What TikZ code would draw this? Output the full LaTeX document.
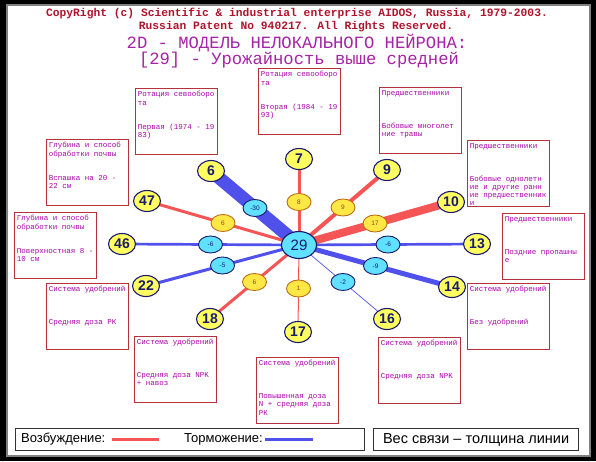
\documentclass[tikz,border=0pt]{standalone}
\usepackage{fontspec}
\setmainfont{Liberation Sans}
\newfontfamily\monofont{Liberation Mono}
\usetikzlibrary{shapes.geometric}

\definecolor{excred}{RGB}{245,85,85}
\definecolor{inhblue}{RGB}{80,80,235}
\definecolor{nodeyellow}{RGB}{255,255,95}
\definecolor{wyellow}{RGB}{255,232,70}
\definecolor{wbrown}{RGB}{190,110,20}
\definecolor{navy}{RGB}{25,25,110}
\definecolor{aqua}{RGB}{95,225,255}
\definecolor{boxred}{RGB}{180,50,60}
\definecolor{boxtext}{RGB}{170,0,170}
\definecolor{copyred}{RGB}{175,20,45}
\definecolor{titlepurple}{RGB}{165,35,165}

\pgfdeclarelayer{background}
\pgfsetlayers{background,main}

% text of a factor box: title lines at the top, value from line 5 on
\newcommand{\infolines}[1]{\parbox[c][60pt][t]{77pt}{\raggedright\fontsize{7.5}{8.2}\monofont #1}}

\begin{document}
\begin{tikzpicture}[x=1pt, y=-1pt,
    outer/.style={ellipse, draw=navy, line width=1.1pt, fill=nodeyellow,
      minimum width=27pt, minimum height=21pt, inner sep=0pt, text=navy,
      font=\fontsize{14}{14}\selectfont\bfseries},
    hub/.style={ellipse, draw=navy, line width=1.1pt, fill=aqua,
      minimum width=35pt, minimum height=27pt, inner sep=0pt, text=navy,
      font=\fontsize{15}{15}\selectfont},
    poswt/.style={ellipse, draw=wbrown, line width=0.9pt, fill=wyellow,
      minimum width=24pt, minimum height=17pt, inner sep=0pt,
      text=wbrown!70!black, font=\fontsize{6.5}{6.5}\selectfont},
    negwt/.style={poswt, draw=navy, fill=aqua, text=navy},
    exc/.style={draw=excred},
    inh/.style={draw=inhblue},
    infobox/.style={draw=boxred, line width=0.9pt, fill=white, anchor=north west,
      inner xsep=2.5pt, inner ysep=3pt, text=boxtext},
    legendbox/.style={draw=black!80, line width=1.2pt, anchor=north west,
      minimum height=22pt, inner sep=0pt, font=\fontsize{14.5}{14.5}\selectfont},
    legendtext/.style={anchor=west, inner sep=0pt, font=\fontsize{13}{13}\selectfont},
    headline/.style={inner sep=0pt, text=copyred, font=\fontsize{11.3}{11.3}\selectfont\monofont\bfseries},
    modelline/.style={inner sep=0pt, text=titlepurple, font=\fontsize{17.2}{17.2}\selectfont\monofont}
  ]
  \useasboundingbox (0,0) rectangle (596,461);

  % Title
  \node[headline] (copy) at (297,14)
    {CopyRight (c) Scientific \& industrial enterprise AIDOS, Russia, 1979-2003.};
  \node[headline] (patent) at (296,27)
    {Russian Patent No 940217. All Rights Reserved.};
  \node[modelline] (model) at (297,43)
    {2D - МОДЕЛЬ НЕЛОКАЛЬНОГО НЕЙРОНА:};
  \node[modelline] (class) at (299,60)
    {[29] - Урожайность выше средней};

  % Neuron and its factors
  \node[hub] (hub) at (299,245) {29};
  \node[outer] (n7)  at (299,159) {7};
  \node[outer] (n6)  at (211,171) {6};
  \node[outer] (n9)  at (387,170) {9};
  \node[outer] (n10) at (451,202) {10};
  \node[outer] (n47) at (147,201) {47};
  \node[outer] (n46) at (122,244) {46};
  \node[outer] (n13) at (477,244) {13};
  \node[outer] (n22) at (146,286) {22};
  \node[outer] (n14) at (452,287) {14};
  \node[outer] (n18) at (210,319) {18};
  \node[outer] (n17) at (298,332) {17};
  \node[outer] (n16) at (387,319) {16};

  \begin{pgfonlayer}{background}
    % Frame
    \fill[black] (0,0) rectangle (596,461);
    \filldraw[fill=white, draw=gray, line width=1.5pt] (7,5) rectangle (590,456);

    % Links, width = weight
    \draw[inh, line width=13pt] (hub.center) -- node[negwt] (w6) {-30} (n6.center);
    \draw[exc, line width=3pt] (hub.center) -- node[poswt] (w7) {8} (n7.center);
    \draw[exc, line width=4pt] (hub.center) -- node[poswt] (w9) {9} (n9.center);
    \draw[exc, line width=8pt] (hub.center) -- node[poswt] (w10) {17} (n10.center);
    \draw[exc, line width=3pt] (hub.center) -- node[poswt] (w47) {6} (n47.center);
    \draw[inh, line width=2.7pt] (hub.center) -- node[negwt] (w46) {-6} (n46.center);
    \draw[inh, line width=2.7pt] (hub.center) -- node[negwt] (w13) {-6} (n13.center);
    \draw[inh, line width=3pt] (hub.center) -- node[negwt] (w22) {-5} (n22.center);
    \draw[inh, line width=5pt] (hub.center) -- node[negwt] (w14) {-9} (n14.center);
    \draw[exc, line width=3pt] (hub.center) -- node[poswt] (w18) {6} (n18.center);
    \draw[exc, line width=1pt] (hub.center) -- node[poswt] (w17) {1} (n17.center);
    \draw[inh, line width=0.7pt] (hub.center) -- node[negwt] (w16) {-2} (n16.center);
  \end{pgfonlayer}

  % Factor boxes
  \node[infobox] (rot2) at (258,68) {\infolines{Ротация севооборо\\та\\[16.4pt]Вторая (1984 - 19\\93)}};
  \node[infobox] (rot1) at (135,88) {\infolines{Ротация севооборо\\та\\[16.4pt]Первая (1974 - 19\\83)}};
  \node[infobox] (pred1) at (379,87) {\infolines{Предшественники\\[24.6pt]Бобовые многолет\\ние травы}};
  \node[infobox] (soil1) at (46,139) {\infolines{Глубина и способ\\обработки почвы\\[16.4pt]Вспашка на 20 -\\22 см}};
  \node[infobox] (soil2) at (14,212) {\infolines{Глубина и способ\\обработки почвы\\[16.4pt]Поверхностная 8 -\\10 см}};
  \node[infobox] (pred2) at (467,140) {\infolines{Предшественники\\[24.6pt]Бобовые однолетн\\ие и другие ранн\\ие предшественник\\и}};
  \node[infobox] (pred3) at (502,213) {\infolines{Предшественники\\[24.6pt]Поздние пропашны\\е}};
  \node[infobox] (fert1) at (46,283) {\infolines{Система удобрений\\[24.6pt]Средняя доза РК}};
  \node[infobox] (fert2) at (134,336) {\infolines{Система удобрений\\[24.6pt]Средняя доза NPK\\+ навоз}};
  \node[infobox] (fert3) at (256,357) {\infolines{Система удобрений\\[24.6pt]Повышенная доза\\N + средняя доза\\РК}};
  \node[infobox] (fert4) at (378,337) {\infolines{Система удобрений\\[24.6pt]Средняя доза NPK}};
  \node[infobox] (fert5) at (467,283) {\infolines{Система удобрений\\[24.6pt]Без удобрений}};

  % Legend
  \node[legendbox, minimum width=349pt] (legsign) at (15,428) {};
  \node[legendbox, minimum width=205pt] (legwidth) at (373,428) {Вес связи – толщина линии};
  \node[legendtext] (exctext) at (21,439.5) {Возбуждение:};
  \coordinate (excA) at (112,439);
  \coordinate (excB) at (159,439);
  \draw[exc, line width=3pt] (excA) -- (excB);
  \node[legendtext] (inhtext) at (184,439.5) {Торможение:};
  \coordinate (inhA) at (265,439);
  \coordinate (inhB) at (313,439);
  \draw[inh, line width=3pt] (inhA) -- (inhB);
\end{tikzpicture}
\end{document}
